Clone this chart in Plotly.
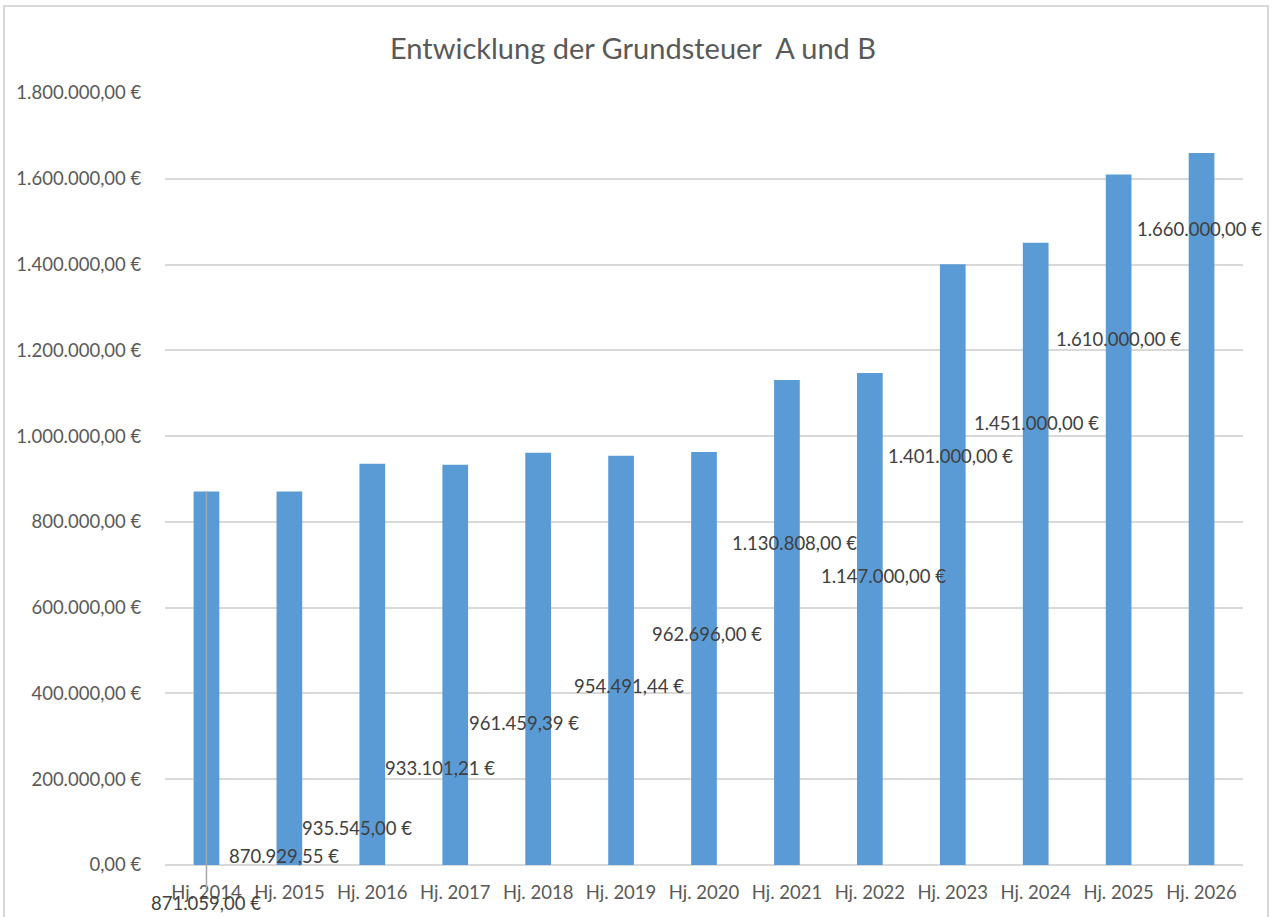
import plotly.graph_objects as go

# ---- data ----
categories = ["Hj. 2014", "Hj. 2015", "Hj. 2016", "Hj. 2017", "Hj. 2018", "Hj. 2019",
              "Hj. 2020", "Hj. 2021", "Hj. 2022", "Hj. 2023", "Hj. 2024", "Hj. 2025", "Hj. 2026"]
values = [871059.00, 870929.55, 935545.00, 933101.21, 961459.39, 954491.44,
          962696.00, 1130808.00, 1147000.00, 1401000.00, 1451000.00, 1610000.00, 1660000.00]
value_labels = ["871.059,00 €", "870.929,55 €", "935.545,00 €", "933.101,21 €", "961.459,39 €",
                "954.491,44 €", "962.696,00 €", "1.130.808,00 €", "1.147.000,00 €",
                "1.401.000,00 €", "1.451.000,00 €", "1.610.000,00 €", "1.660.000,00 €"]
y_tickvals = [0, 200000, 400000, 600000, 800000, 1000000, 1200000, 1400000, 1600000, 1800000]
y_ticktext = ["0,00 €", "200.000,00 €", "400.000,00 €", "600.000,00 €", "800.000,00 €",
              "1.000.000,00 €", "1.200.000,00 €", "1.400.000,00 €", "1.600.000,00 €",
              "1.800.000,00 €"]
title_text = "Entwicklung der Grundsteuer\u00a0 A und B"

# ---- label placement (style: where the data labels were dragged to) ----
label_dx = [0.0, -0.065, -0.185, -0.184, -0.17, 0.096, 0.036, 0.086, 0.159, -0.033, 0.004, -0.007, -0.03]
label_y = [-88600, 21000, 86000, 226000, 331000, 417000, 539000, 751000, 674000,
           954000, 1031000, 1226000, 1483000]

FONT = "Lato, 'Open Sans', sans-serif"
TXT = "#595959"
GRID = "#D9D9D9"
FS = 18.5

fig = go.Figure()
fig.add_trace(go.Bar(
    x=list(range(len(categories))), y=values,
    marker=dict(color="#5B9BD5", line=dict(width=0)),
    width=0.31, hoverinfo="skip", showlegend=False,
))

for i, (lab, dx, ly) in enumerate(zip(value_labels, label_dx, label_y)):
    if i == 0:
        fig.add_annotation(
            x=i, y=values[i], ax=i + dx, ay=ly, xref="x", yref="y", axref="x", ayref="y",
            text=lab, showarrow=True, arrowhead=0, arrowwidth=1.5, arrowcolor="#A6A6A6",
            font=dict(family=FONT, size=FS, color="#404040"),
        )
    else:
        fig.add_annotation(
            x=i + dx, y=ly, xref="x", yref="y", text=lab, showarrow=False,
            font=dict(family=FONT, size=FS, color="#404040"),
        )

fig.update_layout(
    width=1277, height=917,
    margin=dict(l=165, r=34, t=93, b=52),
    paper_bgcolor="white", plot_bgcolor="white",
    font=dict(family=FONT, color=TXT),
    title=dict(text=title_text, x=633 / 1277, xanchor="center", y=1 - 49 / 917, yanchor="middle",
               yref="container", font=dict(family=FONT, size=29, color=TXT)),
    xaxis=dict(
        tickmode="array", tickvals=list(range(len(categories))), ticktext=categories,
        range=[-0.5, 12.5], showgrid=False, zeroline=False, showline=False,
        ticks="outside", ticklen=11, tickcolor="rgba(0,0,0,0)",
        tickfont=dict(family=FONT, size=FS, color=TXT),
    ),
    yaxis=dict(
        range=[0, 1800000], tickmode="array", tickvals=y_tickvals, ticktext=y_ticktext,
        showgrid=True, gridcolor=GRID, gridwidth=1.5, zeroline=True, zerolinecolor=GRID,
        zerolinewidth=1.5, showline=False, ticks="outside", ticklen=19,
        tickcolor="rgba(0,0,0,0)", tickfont=dict(family=FONT, size=FS, color=TXT),
    ),
    shapes=[dict(type="rect", xref="paper", yref="paper",
                 x0=(4 - 165) / 1078, x1=(1268 - 165) / 1078, y0=-0.2, y1=1 + (93 - 6) / 772,
                 line=dict(color=GRID, width=2), fillcolor="rgba(0,0,0,0)", layer="above")],
)

fig.write_html("out.html", config={"displayModeBar": False},
               post_script="document.body.style.margin='0';")
